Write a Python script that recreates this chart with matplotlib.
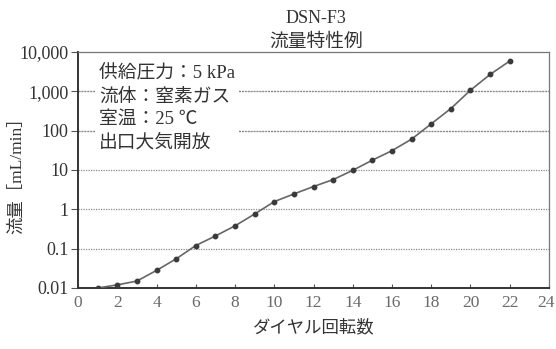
import matplotlib
matplotlib.use("Agg")
import matplotlib.pyplot as plt
import matplotlib.transforms as mtransforms
from matplotlib.ticker import FixedLocator, NullLocator

# flow characteristic of DSN-F3 (dial turns vs flow)
turns = [1, 2, 3, 4, 5, 6, 7, 8, 9, 10, 11, 12, 13, 14, 15, 16, 17, 18, 19, 20, 21, 22]
flow = [0.01, 0.012, 0.015, 0.028, 0.055, 0.12, 0.21, 0.38, 0.76, 1.57, 2.46, 3.8,
        5.7, 9.8, 17.8, 31, 61, 149, 365, 1070, 2690, 5900]

y_ticks = [0.01, 0.1, 1, 10, 100, 1000, 10000]
y_labels = ["0.01", "0.1", "1", "10", "100", "1,000", "10,000"]
x_ticks = list(range(0, 25, 2))

conditions = ["供給圧力：5 kPa", "流体：窒素ガス", "室温：25 ℃", "出口大気開放"]

fonts = ["Liberation Serif", "Noto Sans CJK JP", "DejaVu Sans"]
plt.rcParams["font.family"] = fonts

fig = plt.figure(figsize=(5.56, 3.49), dpi=100)
ax = fig.add_axes([0.1403, 0.1748, 0.8471, 0.6762])

ax.set_yscale("log")
ax.set_xlim(0, 24)
ax.set_ylim(0.01, 10000)

# horizontal decade grid
for v in y_ticks[1:-1]:
    if v >= 100:
        ax.axhline(v, color="#8a8a8a", lw=1.0, ls=(0, (1.5, 0.6)), zorder=1)
    else:
        ax.axhline(v, color="#8a8a8a", lw=0.9, ls=(0, (1, 1)), zorder=1)

ax.plot(turns, flow, color="#666666", lw=1.2, zorder=3)
ax.plot(turns, flow, ls="none", marker="o", ms=3.2, color="#3a3a3a", zorder=4)

ax.yaxis.set_major_locator(FixedLocator(y_ticks))
ax.yaxis.set_minor_locator(NullLocator())
ax.set_yticklabels(y_labels)
ax.set_xticks(x_ticks)

ax.tick_params(axis="y", direction="out", length=5, width=0.8, color="#555555",
               labelsize=13, labelcolor="#333333", pad=2)
ax.tick_params(axis="x", direction="in", length=3, width=0.8, color="#555555",
               labelsize=12.5, labelcolor="#6a6a6a", pad=5)

# keep the last x label inside the figure edge
last = ax.get_xticklabels()[-1]
last.set_transform(last.get_transform()
                   + mtransforms.ScaledTranslation(-3 / 100, 0, fig.dpi_scale_trans))

for side in ["left", "bottom"]:
    ax.spines[side].set_color("#333333")
    ax.spines[side].set_linewidth(1.4)
for side in ["top", "right"]:
    ax.spines[side].set_color("#777777")
    ax.spines[side].set_linewidth(0.9)
    ax.spines[side].set_linestyle((0, (1, 1)))

# test conditions in a white box over the upper-left grid lines
box_text = "\n".join(conditions)
ax.text(0.045, 0.945, box_text, transform=ax.transAxes, ha="left", va="top",
        fontsize=13.5, color="#333333", linespacing=1.42, zorder=5,
        bbox=dict(facecolor="white", edgecolor="none", pad=3))

fig.text(0.569, 0.948, "DSN-F3", ha="center", va="center", fontsize=13, color="#333333")
fig.text(0.569, 0.88, "流量特性例", ha="center", va="center", fontsize=13.5, color="#333333")

ax.set_xlabel("ダイヤル回転数", fontsize=12.5, color="#333333", labelpad=6)
fig.text(0.031, 0.51, "流量［mL/min］", rotation=90, ha="center", va="center",
         fontsize=12.5, color="#333333")

fig.savefig("out.png", dpi=100, facecolor="white")
